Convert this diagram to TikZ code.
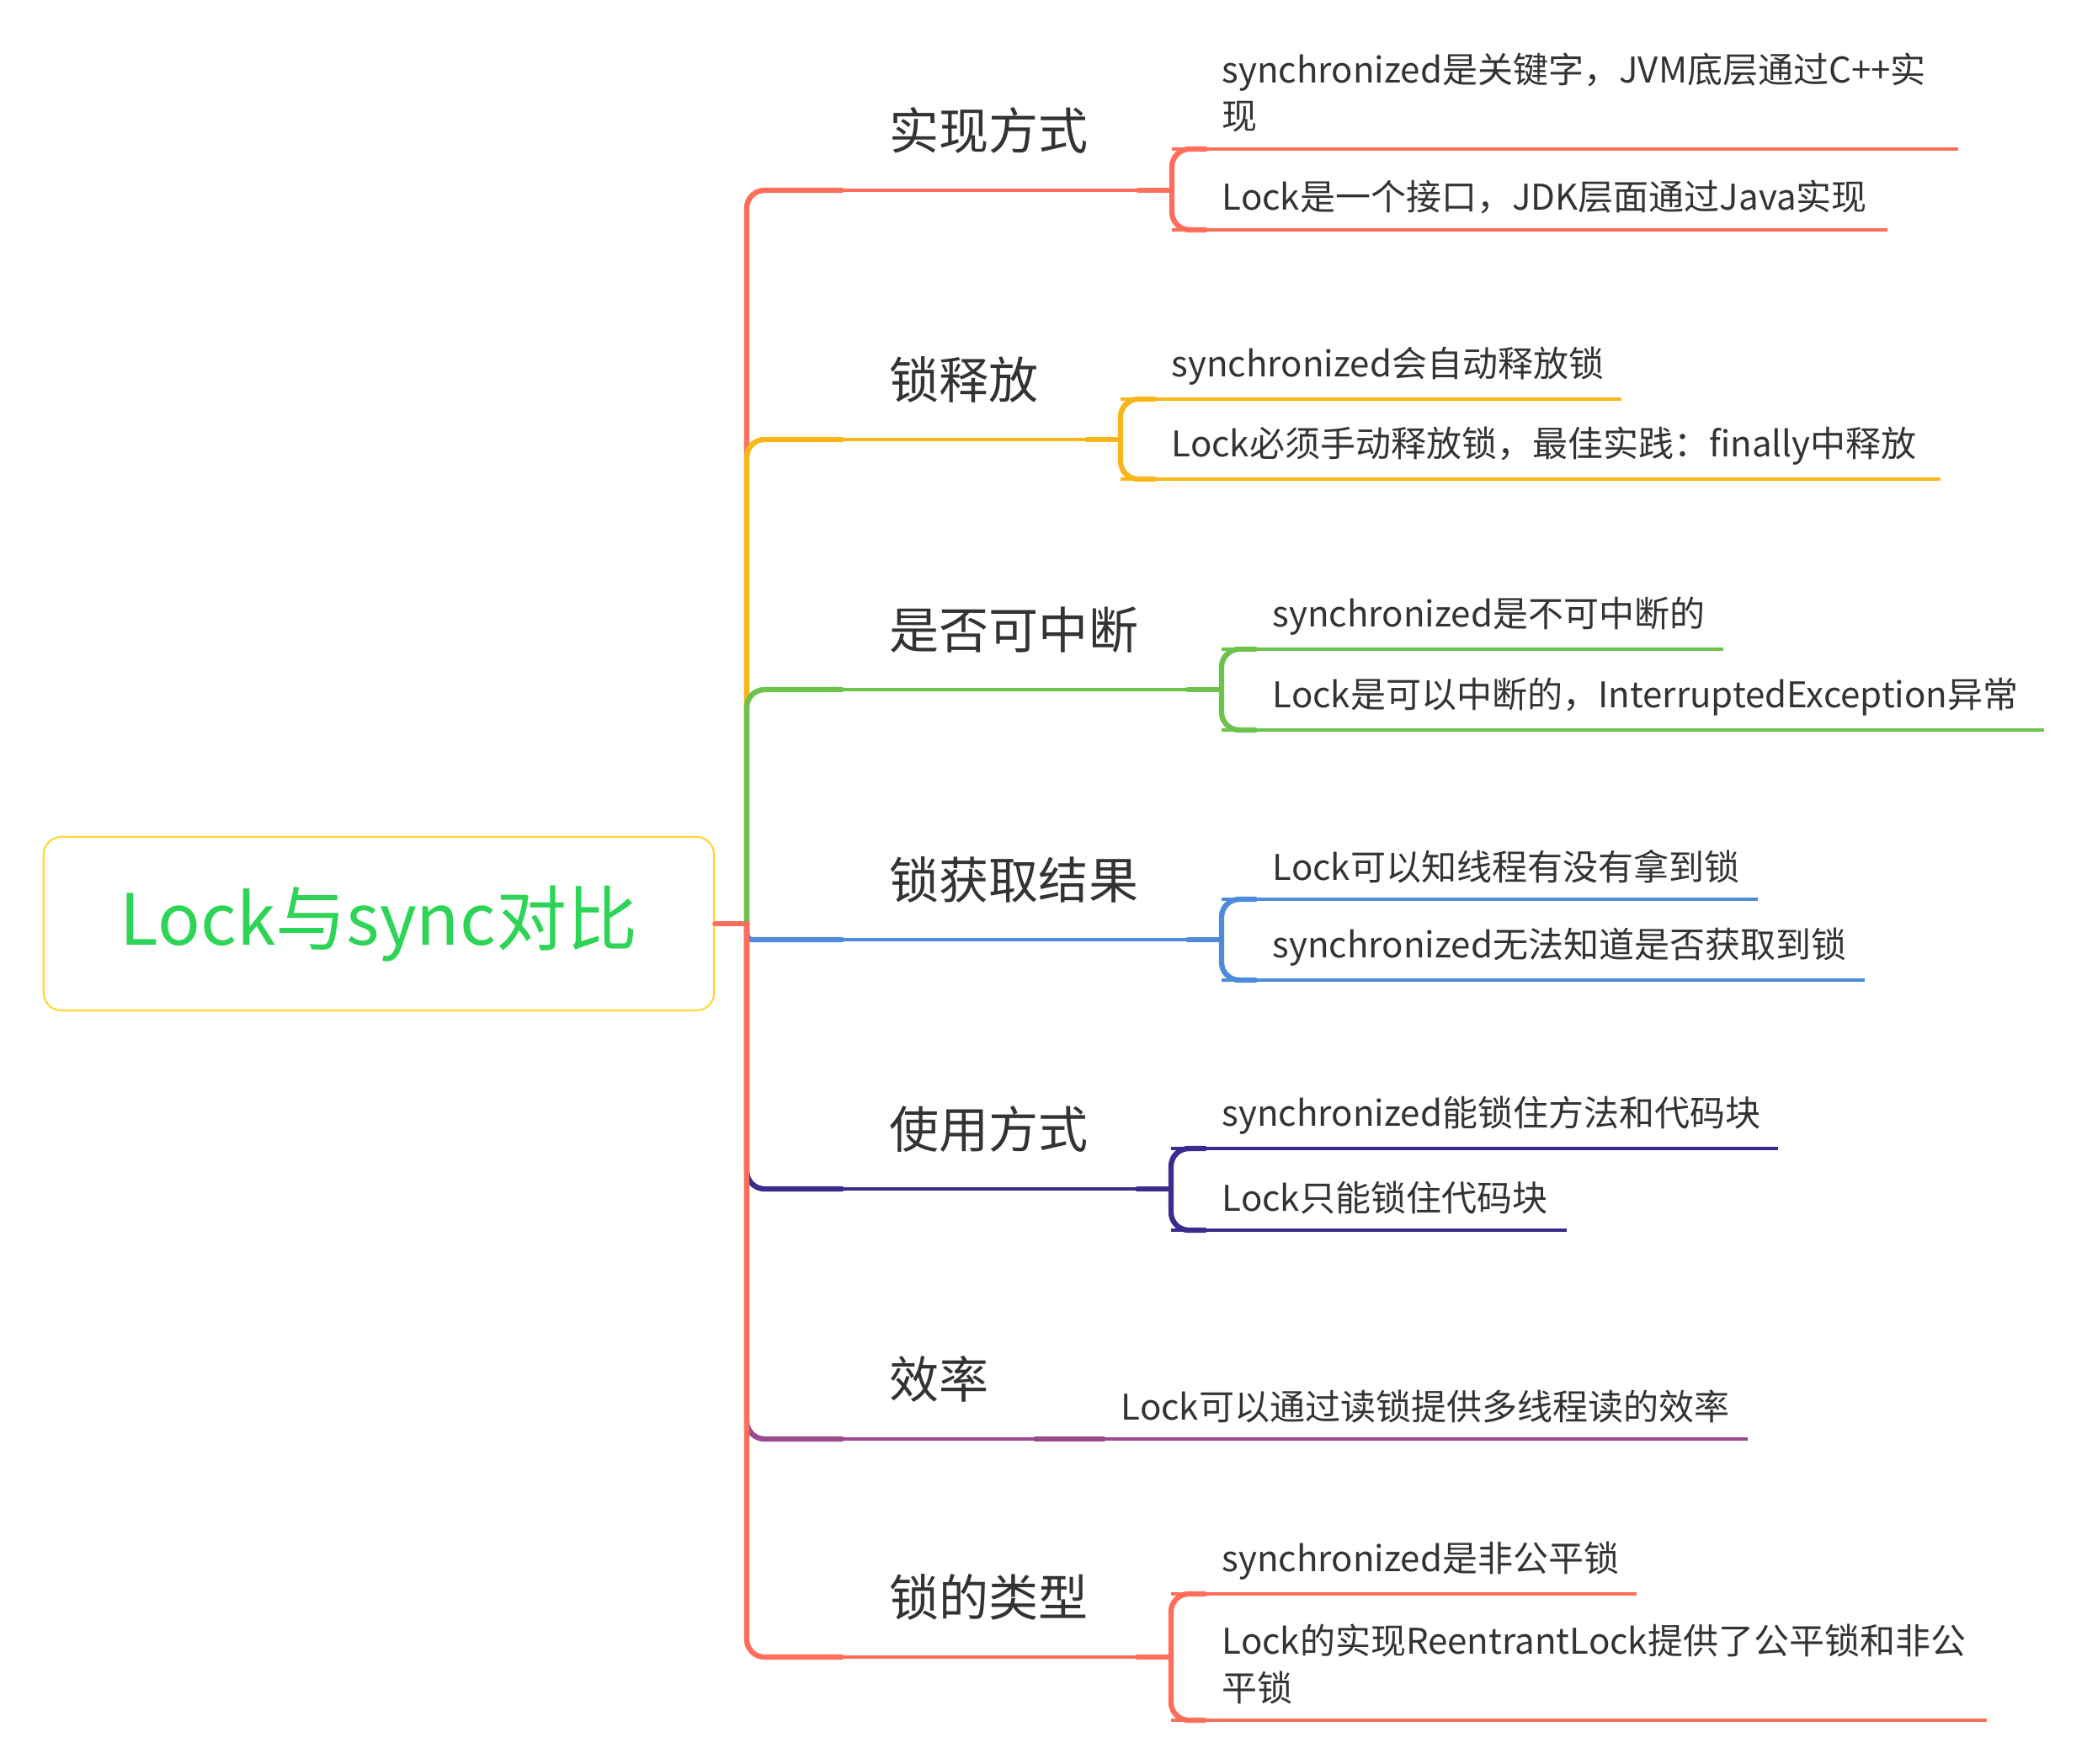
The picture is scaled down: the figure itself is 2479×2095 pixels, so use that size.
\documentclass[tikz,border=0pt]{standalone}
\usepackage{fontspec}
\setmainfont{Noto Sans CJK SC}
\usetikzlibrary{
  calc
}
\definecolor{coral}{HTML}{FF6E5B}
\definecolor{amber}{HTML}{F7B619}
\definecolor{leafgreen}{HTML}{6CC24C}
\definecolor{skyblue}{HTML}{4E8BDA}
\definecolor{indigo}{HTML}{3A2C8C}
\definecolor{plum}{HTML}{9B4A8D}
\definecolor{rootyellow}{HTML}{FFD633}
\definecolor{rootgreen}{HTML}{2DD455}
\definecolor{ink}{HTML}{333333}
\tikzset{
  % For the central topic.
  root box/.style={
    draw=rootyellow,
    line width=0.6pt,
    rounded corners=6pt,
    minimum width=7.96cm,
    minimum height=2.06cm,
    text=rootgreen,
    font=\fontsize{23.9}{28}\selectfont},
%
  % For the main topics.
  topic/.style={
    anchor=west,
    inner sep=0pt,
    text=ink,
    font=\fontsize{16.8}{20}\selectfont},
%
  % For the subtopics.
  leaf/.style={
    anchor=west,
    inner sep=0pt,
    align=left,
    text=ink,
    font=\fontsize{11.95}{15.9}\selectfont},
%
  % For the trunk, the brackets and the short thick stubs.
  stem/.style={
    line width=1.8pt,
    line cap=round,
    rounded corners=6pt},
%
  % For the thin connecting lines.
  twig/.style={
    line width=1pt},
}

\begin{document}
\begin{tikzpicture}[x=0.01cm, y=-0.01cm]
  \useasboundingbox (0,0) rectangle (2479,2095);

  \node[root box] (root) at (450,1097) {Lock与sync对比};
  \coordinate (trunk) at (887,1097);
  \draw[stem, coral] (root.east) -- (trunk);

  % 实现方式
  \coordinate (b1) at (1392,226);
  \coordinate (e11) at (2326,177);
  \coordinate (e12) at (2242,273);
  \draw[stem, coral] (trunk) |- ($(trunk |- b1)+(113,0)$);
  \draw[twig, coral] ($(trunk |- b1)+(113,0)$) -- (b1);
  \draw[stem, coral] ($(b1)+(-40,0)$) -- (b1);
  \draw[stem, coral] ($(b1 |- e11)+(40,0)$) -| (b1) |- ($(b1 |- e12)+(40,0)$);
  \draw[twig, coral] (b1 |- e11) -- (e11);
  \draw[twig, coral] (b1 |- e12) -- (e12);
  \node[topic] (l1) at ($(trunk |- b1)+(169,-71)$) {实现方式};
  \node[leaf] (t11) at ($(b1 |- e11)+(59,-67)$) {synchronized是关键字，JVM底层通过C++实\\现};
  \node[leaf] (t12) at ($(b1 |- e12)+(59,-39)$) {Lock是一个接口，JDK层面通过Java实现};

  % 锁释放
  \coordinate (b2) at (1331,522);
  \coordinate (e21) at (1926,474);
  \coordinate (e22) at (2305,569);
  \draw[stem, amber] (trunk) |- ($(trunk |- b2)+(113,0)$);
  \draw[twig, amber] ($(trunk |- b2)+(113,0)$) -- (b2);
  \draw[stem, amber] ($(b2)+(-40,0)$) -- (b2);
  \draw[stem, amber] ($(b2 |- e21)+(40,0)$) -| (b2) |- ($(b2 |- e22)+(40,0)$);
  \draw[twig, amber] (b2 |- e21) -- (e21);
  \draw[twig, amber] (b2 |- e22) -- (e22);
  \node[topic] (l2) at ($(trunk |- b2)+(169,-71)$) {锁释放};
  \node[leaf] (t21) at ($(b2 |- e21)+(60,-39)$) {synchronized会自动释放锁};
  \node[leaf] (t22) at ($(b2 |- e22)+(60,-39)$) {Lock必须手动释放锁，最佳实践：finally中释放};

  % 是否可中断
  \coordinate (b3) at (1451,819);
  \coordinate (e31) at (2047,771);
  \coordinate (e32) at (2428,867);
  \draw[stem, leafgreen] (trunk) |- ($(trunk |- b3)+(113,0)$);
  \draw[twig, leafgreen] ($(trunk |- b3)+(113,0)$) -- (b3);
  \draw[stem, leafgreen] ($(b3)+(-40,0)$) -- (b3);
  \draw[stem, leafgreen] ($(b3 |- e31)+(40,0)$) -| (b3) |- ($(b3 |- e32)+(40,0)$);
  \draw[twig, leafgreen] (b3 |- e31) -- (e31);
  \draw[twig, leafgreen] (b3 |- e32) -- (e32);
  \node[topic] (l3) at ($(trunk |- b3)+(169,-71)$) {是否可中断};
  \node[leaf] (t31) at ($(b3 |- e31)+(60,-39)$) {synchronized是不可中断的};
  \node[leaf] (t32) at ($(b3 |- e32)+(60,-39)$) {Lock是可以中断的，InterruptedException异常};

  % 锁获取结果
  \coordinate (b4) at (1451,1116);
  \coordinate (e41) at (2088,1068);
  \coordinate (e42) at (2215,1164);
  \draw[stem, skyblue, rounded corners=2pt] (trunk) |- ($(trunk |- b4)+(113,0)$);
  \draw[twig, skyblue] ($(trunk |- b4)+(113,0)$) -- (b4);
  \draw[stem, skyblue] ($(b4)+(-40,0)$) -- (b4);
  \draw[stem, skyblue] ($(b4 |- e41)+(40,0)$) -| (b4) |- ($(b4 |- e42)+(40,0)$);
  \draw[twig, skyblue] (b4 |- e41) -- (e41);
  \draw[twig, skyblue] (b4 |- e42) -- (e42);
  \node[topic] (l4) at ($(trunk |- b4)+(169,-71)$) {锁获取结果};
  \node[leaf] (t41) at ($(b4 |- e41)+(60,-39)$) {Lock可以知线程有没有拿到锁};
  \node[leaf] (t42) at ($(b4 |- e42)+(60,-39)$) {synchronized无法知道是否获取到锁};

  % 使用方式
  \coordinate (b5) at (1391,1412);
  \coordinate (e51) at (2112,1364);
  \coordinate (e52) at (1861,1461);
  \draw[stem, indigo] (trunk) |- ($(trunk |- b5)+(113,0)$);
  \draw[twig, indigo] ($(trunk |- b5)+(113,0)$) -- (b5);
  \draw[stem, indigo] ($(b5)+(-40,0)$) -- (b5);
  \draw[stem, indigo] ($(b5 |- e51)+(40,0)$) -| (b5) |- ($(b5 |- e52)+(40,0)$);
  \draw[twig, indigo] (b5 |- e51) -- (e51);
  \draw[twig, indigo] (b5 |- e52) -- (e52);
  \node[topic] (l5) at ($(trunk |- b5)+(169,-71)$) {使用方式};
  \node[leaf] (t51) at ($(b5 |- e51)+(60,-39)$) {synchronized能锁住方法和代码块};
  \node[leaf] (t52) at ($(b5 |- e52)+(60,-39)$) {Lock只能锁住代码块};

  % 效率: one subtopic, straight on
  \coordinate (b6) at (1311,1709);
  \coordinate (e6) at (2076,1709);
  \draw[stem, plum] (trunk) |- ($(trunk |- b6)+(113,0)$);
  \draw[twig, plum] ($(trunk |- b6)+(113,0)$) -- (e6);
  \draw[stem, plum] ($(b6)+(-81,0)$) -- (b6);
  \node[topic] (l6) at ($(trunk |- b6)+(169,-71)$) {效率};
  \node[leaf] (t61) at ($(b6)+(20,-39)$) {Lock可以通过读锁提供多线程读的效率};

  % 锁的类型
  \coordinate (b7) at (1391,1968);
  \coordinate (e71) at (1944,1893);
  \coordinate (e72) at (2360,2043);
  \draw[stem, coral] (trunk) |- ($(trunk |- b7)+(113,0)$);
  \draw[twig, coral] ($(trunk |- b7)+(113,0)$) -- (b7);
  \draw[stem, coral] ($(b7)+(-40,0)$) -- (b7);
  \draw[stem, coral] ($(b7 |- e71)+(40,0)$) -| (b7) |- ($(b7 |- e72)+(40,0)$);
  \draw[twig, coral] (b7 |- e71) -- (e71);
  \draw[twig, coral] (b7 |- e72) -- (e72);
  \node[topic] (l7) at ($(trunk |- b7)+(169,-71)$) {锁的类型};
  \node[leaf] (t71) at ($(b7 |- e71)+(60,-39)$) {synchronized是非公平锁};
  \node[leaf] (t72) at ($(b7 |- e72)+(60,-67)$) {Lock的实现ReentrantLock提供了公平锁和非公\\平锁};
\end{tikzpicture}
\end{document}
